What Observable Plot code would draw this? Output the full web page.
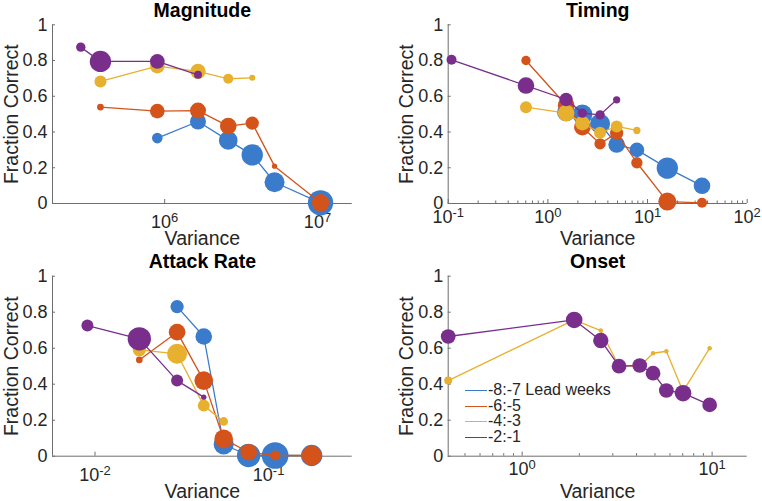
<!DOCTYPE html>
<html>
<head>
<meta charset="utf-8">
<script src="https://cdn.jsdelivr.net/npm/d3@7"></script>
<script src="https://cdn.jsdelivr.net/npm/@observablehq/plot@0.6"></script>
<style>
  html, body { margin: 0; padding: 0; background: #fff; }
  #wrap { position: relative; width: 762px; height: 501px; overflow: hidden; font-family: "Liberation Sans", Arial, sans-serif; color: #262626; }
  #wrap svg { position: absolute; overflow: visible; }
  #legend { position: absolute; left: 465px; top: 382px; font-size: 16px; line-height: 15.5px; }
  #legend .row { white-space: nowrap; }
  #legend .sw { display: inline-block; width: 22px; height: 0; vertical-align: middle; margin-right: 1px; }
</style>
</head>
<body>
<div id="wrap"></div>
<script>
// ---------- data ----------
const seriesNames = ["-8:-7 Lead weeks", "-6:-5", "-4:-3", "-2:-1"];
const seriesColors = ["#3a7bcb", "#d4531b", "#e7b02e", "#7a2e8c"];
const yTickValues = [0, 0.2, 0.4, 0.6, 0.8, 1];

// Magnitude  (series index: 0 blue, 1 orange, 2 yellow, 3 purple)
const magnitudeSeries   = [0,0,0,0,0,0, 1,1,1,1,1,1,1, 2,2,2,2,2, 3,3,3,3];
const magnitudeVariance = [895000,1652000,2606000,3741000,5236000,10470000,
                           380000,895000,1652000,2606000,3741000,5236000,10470000,
                           380000,895000,1652000,2606000,3741000,
                           282500,380000,895000,1652000];
const magnitudeFraction = [0.366,0.459,0.353,0.272,0.119,0.004,
                           0.539,0.517,0.52,0.433,0.45,0.209,0.004,
                           0.683,0.769,0.739,0.698,0.703,
                           0.875,0.795,0.795,0.72];
const magnitudeCount    = [28,64,87,114,100,160, 11,54,64,69,44,7,75, 36,54,59,25,9, 22,114,54,16];
const magnitudeTicks = [1e6, 1e7];

// Timing
const timingSeries   = [0,0,0,0,0,0,0, 1,1,1,1,1,1,1,1, 2,2,2,2,2,2, 3,3,3,3,3,3];
const timingVariance = [1.525,2.22,3.34,4.9,7.82,15.8,35.2,
                        0.603,1.525,2.22,3.34,4.9,7.82,15.8,35.2,
                        0.603,1.525,2.22,3.34,4.9,7.82,
                        0.108,0.603,1.525,2.22,3.34,4.9];
const timingFraction = [0.51,0.498,0.446,0.33,0.30,0.198,0.099,
                        0.80,0.55,0.427,0.334,0.394,0.228,0.011,0.004,
                        0.539,0.506,0.45,0.396,0.431,0.409,
                        0.804,0.66,0.582,0.506,0.496,0.58];
const timingCount    = [81,100,100,69,54,114,69, 22,69,69,32,44,32,81,25, 36,69,54,36,36,13, 25,69,44,22,22,13];
const timingTicks = [0.1, 1, 10, 100];

// Attack Rate
const attackSeries   = [0,0,0,0,0,0, 1,1,1,1,1,1,1, 2,2,2,2, 3,3,3,3];
const attackVariance = [0.0297,0.0423,0.0551,0.0767,0.109,0.177,
                        0.018,0.0297,0.0423,0.0551,0.0767,0.109,0.177,
                        0.018,0.0297,0.0423,0.0551,
                        0.00904,0.018,0.0297,0.0423];
const attackFraction = [0.831,0.665,0.065,0.004,0.004,0.004,
                        0.535,0.689,0.42,0.096,0.022,0.004,0.004,
                        0.591,0.569,0.281,0.193,
                        0.726,0.652,0.42,0.328];
const attackCount    = [44,69,100,136,178,114, 11,69,87,87,69,25,100, 44,100,36,19, 36,136,36,7];
const attackTicks = [0.01, 0.1];

// Onset
const onsetSeries   = [2,2,2,2,2,2,2,2,2, 3,3,3,3,3,3,3,3,3];
const onsetVariance = [0.408,1.879,2.594,3.236,4.159,4.887,5.741,7.031,9.705,
                       0.408,1.879,2.594,3.236,4.159,4.887,5.741,7.031,9.705];
const onsetFraction = [0.42,0.757,0.698,0.5,0.5,0.572,0.583,0.36,0.60,
                       0.665,0.757,0.643,0.5,0.504,0.461,0.365,0.35,0.285];
const onsetCount    = [16,5,5,5,5,5,5,5,5, 54,69,59,54,54,54,54,69,54];
const onsetTicks = [1, 10];

// ---------- drawing ----------
const axisColor = "#6e6e6e";
const textColor = "#262626";

function minorTicks(domain) {
  const out = [];
  const lo = Math.floor(Math.log10(domain[0])), hi = Math.ceil(Math.log10(domain[1]));
  for (let e = lo; e < hi; e++) for (let k = 2; k <= 9; k++) {
    const v = k * Math.pow(10, e);
    if (v > domain[0] && v < domain[1]) out.push(v);
  }
  return out;
}

function panel(cfg) {
  const {title, series, xs, ys, ns, domain, majors, showMinor, left, top, w, h, ml, mr, mt, mb, xPad} = cfg;
  const data = xs.map((x, i) => ({x, y: ys[i], n: ns[i], s: series[i]}));
  const fw = w - ml - mr, fh = h - mt - mb;
  const marks = [
    Plot.ruleY([0], {stroke: axisColor, strokeWidth: 1}),
    Plot.ruleX([domain[0]], {stroke: axisColor, strokeWidth: 1}),
    Plot.tickY(yTickValues, {y: d => d, insetRight: fw - 3, stroke: axisColor}),
    Plot.tickX(majors, {x: d => d, insetTop: fh - 4, stroke: axisColor}),
    showMinor ? Plot.tickX(minorTicks(domain), {x: d => d, insetTop: fh - 2.5, stroke: axisColor}) : null,
    Plot.axisX({ticks: majors, tickSize: 0, tickPadding: xPad, fontSize: 18, label: null,
      tickFormat: d => "10^" + Math.round(Math.log10(d)), fill: textColor}),
    Plot.axisY({ticks: yTickValues, tickSize: 0, tickPadding: 5, fontSize: 18, label: null,
      tickFormat: d => String(d), fill: textColor}),
    Plot.text(["Variance"], {frameAnchor: "bottom", lineAnchor: "bottom", dy: 41.5, fontSize: 19.5, fill: textColor}),
    Plot.text(["Fraction Correct"], {frameAnchor: "left", textAnchor: "middle", rotate: -90, dx: -41, fontSize: 19.5, fill: textColor}),
    Plot.text([title], {frameAnchor: "top", lineAnchor: "bottom", dy: -8, fontSize: 19.5, fontWeight: "bold", fill: "#000"})
  ];
  for (let s = 0; s < 4; s++) {
    const sub = data.filter(d => d.s === s);
    if (!sub.length) continue;
    marks.push(Plot.line(sub, {x: "x", y: "y", stroke: seriesColors[s], strokeWidth: 1.3}));
    marks.push(Plot.dot(sub, {x: "x", y: "y", r: "n", fill: seriesColors[s], stroke: "none"}));
  }
  const svg = Plot.plot({
    width: w, height: h,
    marginLeft: ml, marginRight: mr, marginTop: mt, marginBottom: mb,
    x: {type: "log", domain},
    y: {domain: [0, 1]},
    r: {type: "sqrt", domain: [0, 100], range: [0, 10]},
    style: {fontFamily: "Liberation Sans, Arial, sans-serif", fontSize: "18px", color: textColor, background: "transparent", overflow: "visible"},
    marks: marks.filter(Boolean)
  });
  // superscript exponents on the log axis tick labels
  svg.querySelectorAll('g[aria-label="x-axis tick label"] text').forEach(t => {
    const m = /^10\^(-?\d+)$/.exec(t.textContent);
    if (!m) return;
    t.textContent = "10";
    const ts = document.createElementNS("http://www.w3.org/2000/svg", "tspan");
    ts.setAttribute("dy", "-0.45em");
    ts.setAttribute("font-size", "0.72em");
    ts.textContent = m[1];
    t.appendChild(ts);
  });
  svg.style.left = left + "px";
  svg.style.top = top + "px";
  return svg;
}

const wrap = document.getElementById("wrap");
wrap.appendChild(panel({title: "Magnitude", series: magnitudeSeries, xs: magnitudeVariance, ys: magnitudeFraction, ns: magnitudeCount,
  domain: [184500, 16870000], majors: magnitudeTicks, showMinor: false,
  left: 0, top: 0, w: 381, h: 250, ml: 52, mr: 29.3, mt: 24.3, mb: 47, xPad: 12}));
wrap.appendChild(panel({title: "Timing", series: timingSeries, xs: timingVariance, ys: timingFraction, ns: timingCount,
  domain: [0.1, 100], majors: timingTicks, showMinor: true,
  left: 381, top: 0, w: 381, h: 250, ml: 66.7, mr: 15.3, mt: 24.3, mb: 47, xPad: 7}));
wrap.appendChild(panel({title: "Attack Rate", series: attackSeries, xs: attackVariance, ys: attackFraction, ns: attackCount,
  domain: [0.00569, 0.303], majors: attackTicks, showMinor: false,
  left: 0, top: 250, w: 381, h: 251, ml: 52, mr: 29.3, mt: 25.7, mb: 45.3, xPad: 12}));
wrap.appendChild(panel({title: "Onset", series: onsetSeries, xs: onsetVariance, ys: onsetFraction, ns: onsetCount,
  domain: [0.408, 15.3], majors: onsetTicks, showMinor: true,
  left: 381, top: 250, w: 381, h: 251, ml: 66.7, mr: 15.3, mt: 25.7, mb: 45.3, xPad: 6}));

// legend (inside the Onset panel)
const legend = document.createElement("div");
legend.id = "legend";
seriesNames.forEach((name, i) => {
  const row = document.createElement("div");
  row.className = "row";
  const sw = document.createElement("span");
  sw.className = "sw";
  sw.style.borderTop = "1.3px solid " + seriesColors[i];
  row.appendChild(sw);
  row.appendChild(document.createTextNode(name));
  legend.appendChild(row);
});
wrap.appendChild(legend);
</script>
</body>
</html>
